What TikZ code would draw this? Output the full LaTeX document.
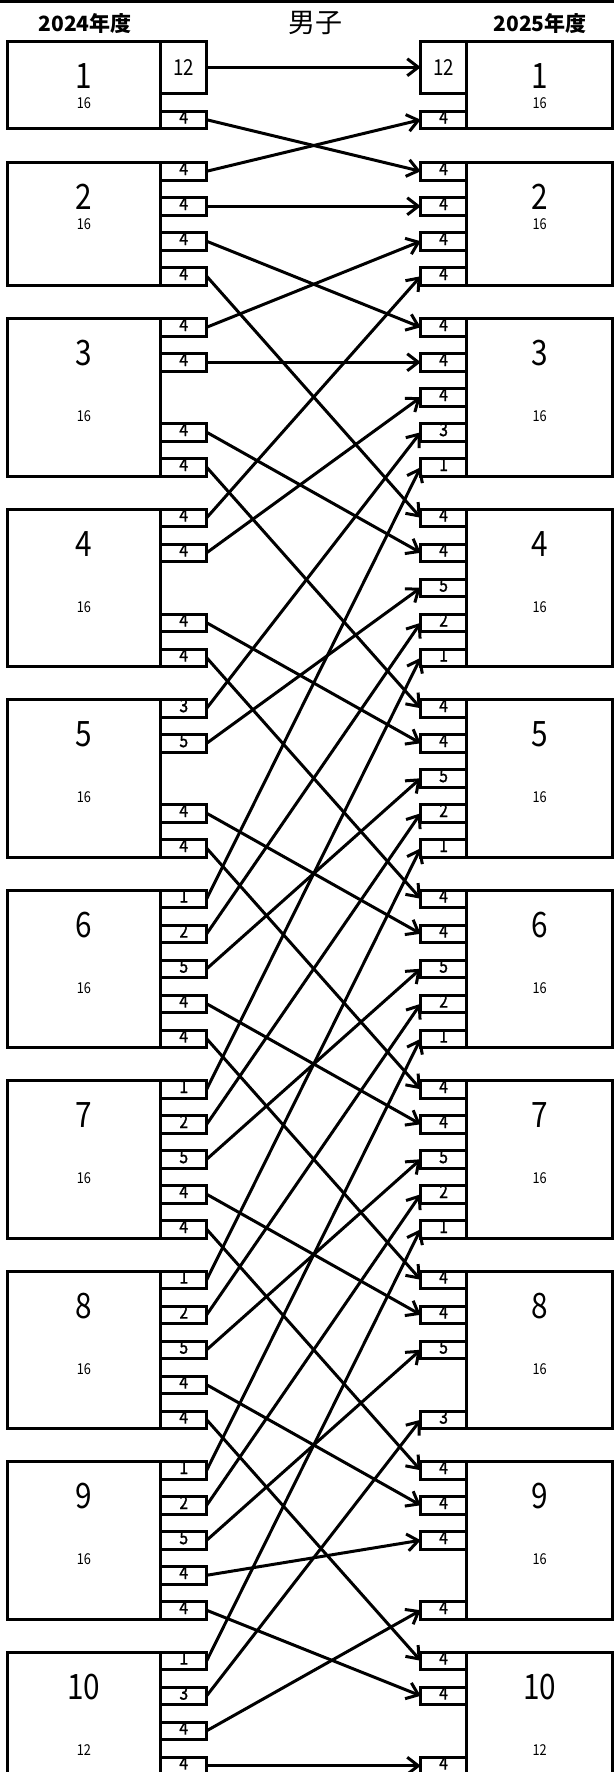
\documentclass[tikz,border=0pt]{standalone}
\usepackage{fontspec}
\setmainfont{Noto Sans CJK JP}
\newfontfamily\narrowfont{Noto Sans CJK JP}[FakeStretch=0.85]
\newfontfamily\slotfont{Noto Sans CJK JP}[FakeStretch=0.85,FakeBold=1.2]
\usetikzlibrary{arrows.meta}
\tikzset{
  box/.style={draw, line width=3pt, inner sep=0pt, outer sep=0pt},
  mainL/.style={box, minimum width=153.6pt},
  mainR/.style={box, minimum width=146.5pt},
  slotbox/.style={box, minimum width=45.8pt, minimum height=17.5pt},
  slotlbl/.style={anchor=base, inner sep=0pt, font=\slotfont\fontsize{18.5}{18.5}\selectfont},
  biglbl/.style={anchor=base, inner sep=0pt, font=\narrowfont\fontsize{22}{22}\selectfont},
  bignum/.style={anchor=base, inner sep=0pt, font=\narrowfont\fontsize{35}{35}\selectfont},
  smallnum/.style={anchor=base, inner sep=0pt, font=\narrowfont\fontsize{15}{15}\selectfont},
  hdr/.style={inner sep=0pt, font=\bfseries\fontsize{21}{21}\selectfont},
  title/.style={inner sep=0pt, font=\fontsize{27}{27}\selectfont},
  arr/.style={line width=3pt, -{Straight Barb[length=11pt,width=17pt]}},
}
% main boxes: id, top, height, big, small, small offset
\newcommand\LB[6]{%
  \node[mainL, minimum height=#3pt] (LB#1) at (83.9,{#2+#3/2}) {};
  \node[bignum] (LB#1n) at (83.9,{#2+47}) {#4};
  \node[smallnum] (LB#1m) at (83.9,{#2+#6}) {#5};}
\newcommand\RB[6]{%
  \node[mainR, minimum height=#3pt] (RB#1) at (539.6,{#2+#3/2}) {};
  \node[bignum] (RB#1n) at (539.6,{#2+47}) {#4};
  \node[smallnum] (RB#1m) at (539.6,{#2+#6}) {#5};}
% slots: box id, slot, top, label
\newcommand\LS[4]{%
  \node[slotlbl] (L#1-#2l) at (183.8,{#3+35*#2+12.6}) {#4};
  \node[slotbox] (L#1-#2) at (183.8,{#3+35*#2+8.75}) {};}
\newcommand\RS[4]{%
  \node[slotlbl] (R#1-#2l) at (443.6,{#3+35*#2+12.6}) {#4};
  \node[slotbox] (R#1-#2) at (443.6,{#3+35*#2+8.75}) {};}
\begin{document}
\begin{tikzpicture}[x=1pt,y=-1pt]
\useasboundingbox (0,0) rectangle (614,1772);
\clip (0,0) rectangle (614,1772);
\coordinate (TL) at (0,1.4);
\coordinate (TR) at (614,1.4);
\draw[line width=2.8pt] (TL) -- (TR);
\node[hdr] (h1) at (85,24) {2024年度};
\node[title] (h2) at (315,23) {男子};
\node[hdr] (h3) at (540,24) {2025年度};
% left main boxes
\LB{1}{41}{87.5}{1}{16}{67}
\LB{2}{162.5}{122.5}{2}{16}{67}
\LB{3}{318.5}{157.5}{3}{16}{103}
\LB{4}{509}{157.5}{4}{16}{103}
\LB{5}{699.5}{157.5}{5}{16}{103}
\LB{6}{890}{157.5}{6}{16}{103}
\LB{7}{1080.5}{157.5}{7}{16}{103}
\LB{8}{1271}{157.5}{8}{16}{103}
\LB{9}{1461.5}{157.5}{9}{16}{103}
\LB{10}{1652}{122.5}{10}{12}{103}
% right main boxes
\RB{1}{41}{87.5}{1}{16}{67}
\RB{2}{162.5}{122.5}{2}{16}{67}
\RB{3}{318.5}{157.5}{3}{16}{103}
\RB{4}{509}{157.5}{4}{16}{103}
\RB{5}{699.5}{157.5}{5}{16}{103}
\RB{6}{890}{157.5}{6}{16}{103}
\RB{7}{1080.5}{157.5}{7}{16}{103}
\RB{8}{1271}{157.5}{8}{16}{103}
\RB{9}{1461.5}{157.5}{9}{16}{103}
\RB{10}{1652}{122.5}{10}{12}{103}
% box 1 tall slots
\node[biglbl] (L1-0l) at (183.8,75) {12};
\node[box, minimum width=45.8pt, minimum height=52.5pt] (L1-0) at (183.8,67.25) {};
\node[biglbl] (R1-0l) at (443.6,75) {12};
\node[box, minimum width=45.8pt, minimum height=52.5pt] (R1-0) at (443.6,67.25) {};
% left slots
\LS{1}{2}{41}{4}
\LS{2}{0}{162.5}{4}\LS{2}{1}{162.5}{4}\LS{2}{2}{162.5}{4}\LS{2}{3}{162.5}{4}
\LS{3}{0}{318.5}{4}\LS{3}{1}{318.5}{4}\LS{3}{3}{318.5}{4}\LS{3}{4}{318.5}{4}
\LS{4}{0}{509}{4}\LS{4}{1}{509}{4}\LS{4}{3}{509}{4}\LS{4}{4}{509}{4}
\LS{5}{0}{699.5}{3}\LS{5}{1}{699.5}{5}\LS{5}{3}{699.5}{4}\LS{5}{4}{699.5}{4}
\LS{6}{0}{890}{1}\LS{6}{1}{890}{2}\LS{6}{2}{890}{5}\LS{6}{3}{890}{4}\LS{6}{4}{890}{4}
\LS{7}{0}{1080.5}{1}\LS{7}{1}{1080.5}{2}\LS{7}{2}{1080.5}{5}\LS{7}{3}{1080.5}{4}\LS{7}{4}{1080.5}{4}
\LS{8}{0}{1271}{1}\LS{8}{1}{1271}{2}\LS{8}{2}{1271}{5}\LS{8}{3}{1271}{4}\LS{8}{4}{1271}{4}
\LS{9}{0}{1461.5}{1}\LS{9}{1}{1461.5}{2}\LS{9}{2}{1461.5}{5}\LS{9}{3}{1461.5}{4}\LS{9}{4}{1461.5}{4}
\LS{10}{0}{1652}{1}\LS{10}{1}{1652}{3}\LS{10}{2}{1652}{4}\LS{10}{3}{1652}{4}
% right slots
\RS{1}{2}{41}{4}
\RS{2}{0}{162.5}{4}\RS{2}{1}{162.5}{4}\RS{2}{2}{162.5}{4}\RS{2}{3}{162.5}{4}
\RS{3}{0}{318.5}{4}\RS{3}{1}{318.5}{4}\RS{3}{2}{318.5}{4}\RS{3}{3}{318.5}{3}\RS{3}{4}{318.5}{1}
\RS{4}{0}{509}{4}\RS{4}{1}{509}{4}\RS{4}{2}{509}{5}\RS{4}{3}{509}{2}\RS{4}{4}{509}{1}
\RS{5}{0}{699.5}{4}\RS{5}{1}{699.5}{4}\RS{5}{2}{699.5}{5}\RS{5}{3}{699.5}{2}\RS{5}{4}{699.5}{1}
\RS{6}{0}{890}{4}\RS{6}{1}{890}{4}\RS{6}{2}{890}{5}\RS{6}{3}{890}{2}\RS{6}{4}{890}{1}
\RS{7}{0}{1080.5}{4}\RS{7}{1}{1080.5}{4}\RS{7}{2}{1080.5}{5}\RS{7}{3}{1080.5}{2}\RS{7}{4}{1080.5}{1}
\RS{8}{0}{1271}{4}\RS{8}{1}{1271}{4}\RS{8}{2}{1271}{5}\RS{8}{4}{1271}{3}
\RS{9}{0}{1461.5}{4}\RS{9}{1}{1461.5}{4}\RS{9}{2}{1461.5}{4}\RS{9}{4}{1461.5}{4}
\RS{10}{0}{1652}{4}\RS{10}{1}{1652}{4}\RS{10}{3}{1652}{4}
% arrows
\draw[arr] (L1-0.east) -- (R1-0.west);
\draw[arr] (L1-2.east) -- (R2-0.west);
\draw[arr] (L2-0.east) -- (R1-2.west);
\draw[arr] (L2-1.east) -- (R2-1.west);
\draw[arr] (L2-2.east) -- (R3-0.west);
\draw[arr] (L2-3.east) -- (R4-0.west);
\draw[arr] (L3-0.east) -- (R2-2.west);
\draw[arr] (L3-1.east) -- (R3-1.west);
\draw[arr] (L3-3.east) -- (R4-1.west);
\draw[arr] (L3-4.east) -- (R5-0.west);
\draw[arr] (L4-0.east) -- (R2-3.west);
\draw[arr] (L4-1.east) -- (R3-2.west);
\draw[arr] (L4-3.east) -- (R5-1.west);
\draw[arr] (L4-4.east) -- (R6-0.west);
\draw[arr] (L5-0.east) -- (R3-3.west);
\draw[arr] (L5-1.east) -- (R4-2.west);
\draw[arr] (L5-3.east) -- (R6-1.west);
\draw[arr] (L5-4.east) -- (R7-0.west);
\draw[arr] (L6-0.east) -- (R3-4.west);
\draw[arr] (L6-1.east) -- (R4-3.west);
\draw[arr] (L6-2.east) -- (R5-2.west);
\draw[arr] (L6-3.east) -- (R7-1.west);
\draw[arr] (L6-4.east) -- (R8-0.west);
\draw[arr] (L7-0.east) -- (R4-4.west);
\draw[arr] (L7-1.east) -- (R5-3.west);
\draw[arr] (L7-2.east) -- (R6-2.west);
\draw[arr] (L7-3.east) -- (R8-1.west);
\draw[arr] (L7-4.east) -- (R9-0.west);
\draw[arr] (L8-0.east) -- (R5-4.west);
\draw[arr] (L8-1.east) -- (R6-3.west);
\draw[arr] (L8-2.east) -- (R7-2.west);
\draw[arr] (L8-3.east) -- (R9-1.west);
\draw[arr] (L8-4.east) -- (R10-0.west);
\draw[arr] (L9-0.east) -- (R6-4.west);
\draw[arr] (L9-1.east) -- (R7-3.west);
\draw[arr] (L9-2.east) -- (R8-2.west);
\draw[arr] (L9-3.east) -- (R9-2.west);
\draw[arr] (L9-4.east) -- (R10-1.west);
\draw[arr] (L10-0.east) -- (R7-4.west);
\draw[arr] (L10-1.east) -- (R8-4.west);
\draw[arr] (L10-2.east) -- (R9-4.west);
\draw[arr] (L10-3.east) -- (R10-3.west);
\end{tikzpicture}
\end{document}
